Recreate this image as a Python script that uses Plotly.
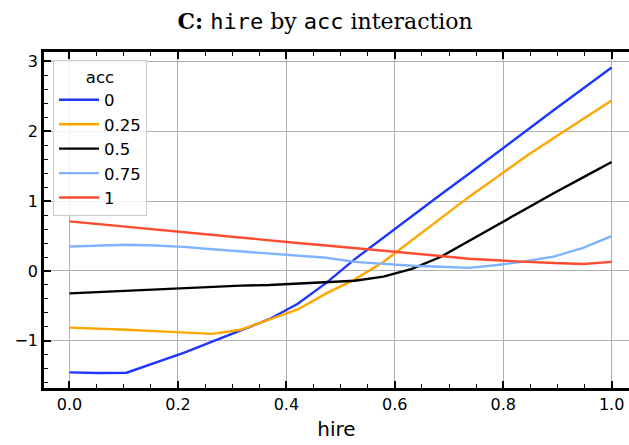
import plotly.graph_objects as go

# hire values at which the interaction was evaluated (20 evenly spaced points)
hire = [0.0, 0.0526, 0.1053, 0.1579, 0.2105, 0.2632, 0.3158, 0.3684, 0.4211, 0.4737,
        0.5263, 0.5789, 0.6316, 0.6842, 0.7368, 0.7895, 0.8421, 0.8947, 0.9474, 1.0]

acc_levels = ["0", "0.25", "0.5", "0.75", "1"]

acc_0 = [-1.45, -1.46, -1.455, -1.31, -1.17, -1.01, -0.85, -0.69, -0.47, -0.17,
         0.17, 0.48, 0.79, 1.09, 1.39, 1.70, 2.00, 2.31, 2.61, 2.91]
acc_025 = [-0.81, -0.82, -0.84, -0.86, -0.88, -0.90, -0.84, -0.70, -0.55, -0.32,
           -0.12, 0.13, 0.44, 0.76, 1.06, 1.35, 1.64, 1.91, 2.18, 2.44]
acc_05 = [-0.32, -0.30, -0.29, -0.27, -0.25, -0.23, -0.21, -0.20, -0.18, -0.17,
          -0.14, -0.08, 0.03, 0.20, 0.43, 0.67, 0.90, 1.12, 1.34, 1.56]
acc_075 = [0.35, 0.365, 0.375, 0.365, 0.345, 0.31, 0.28, 0.26, 0.23, 0.19,
           0.13, 0.10, 0.075, 0.06, 0.045, 0.085, 0.14, 0.21, 0.33, 0.50]
acc_1 = [0.71, 0.67, 0.63, 0.59, 0.55, 0.51, 0.47, 0.435, 0.40, 0.365,
         0.33, 0.295, 0.26, 0.215, 0.175, 0.15, 0.13, 0.115, 0.10, 0.13]

series = [acc_0, acc_025, acc_05, acc_075, acc_1]
colors = ["#1f36ff", "#ffa500", "#000000", "#7fb3ff", "#ff4b2e"]

fig = go.Figure()
for name, ys, c in zip(acc_levels, series, colors):
    fig.add_trace(go.Scatter(x=hire, y=ys, mode="lines", name=name,
                             line=dict(color=c, width=2.4)))

tick_font = dict(family="DejaVu Sans", size=16, color="black")
axis_common = dict(
    showline=True, linecolor="black", linewidth=2.5,
    ticks="inside", ticklen=7, tickwidth=1.5, tickcolor="black",
    showgrid=True, gridcolor="#b0b0b0", gridwidth=1,
    zeroline=False, tickfont=tick_font,
)

mono = "font-family:DejaVu Sans Mono"
fig.update_layout(
    width=629, height=445,
    margin=dict(l=44, r=0, t=52, b=57),
    paper_bgcolor="white", plot_bgcolor="white",
    title=dict(
        text=(f"<b>C:</b> <span style='{mono}'>hire</span> by "
              f"<span style='{mono}'>acc</span> interaction"),
        font=dict(family="DejaVu Serif", size=22, color="black"),
        x=0.517, xanchor="center", y=0.953, yanchor="middle",
    ),
    xaxis=dict(
        range=[-0.047, 1.032], dtick=0.2, tickformat=".1f", mirror="ticks",
        minor=dict(dtick=0.05, ticks="inside", ticklen=4, tickwidth=1.2, tickcolor="black"),
        title=dict(text="hire", font=dict(family="DejaVu Sans", size=20, color="black"), standoff=10),
        **axis_common,
    ),
    yaxis=dict(
        range=[-1.674, 3.133], dtick=1,
        minor=dict(dtick=0.2, ticks="inside", ticklen=4, tickwidth=1.2, tickcolor="black"),
        **axis_common,
    ),
    legend=dict(
        x=0.0154, y=0.976, xanchor="left", yanchor="top",
        bgcolor="rgba(255,255,255,0.85)", bordercolor="#cccccc", borderwidth=1,
        font=dict(family="DejaVu Sans", size=16.5, color="black"),
        title=dict(text="acc", side="top center",
                   font=dict(family="DejaVu Sans", size=16.5, color="black")),
        itemwidth=40, tracegroupgap=0,
    ),
    showlegend=True,
)

fig.write_html("out.html")
